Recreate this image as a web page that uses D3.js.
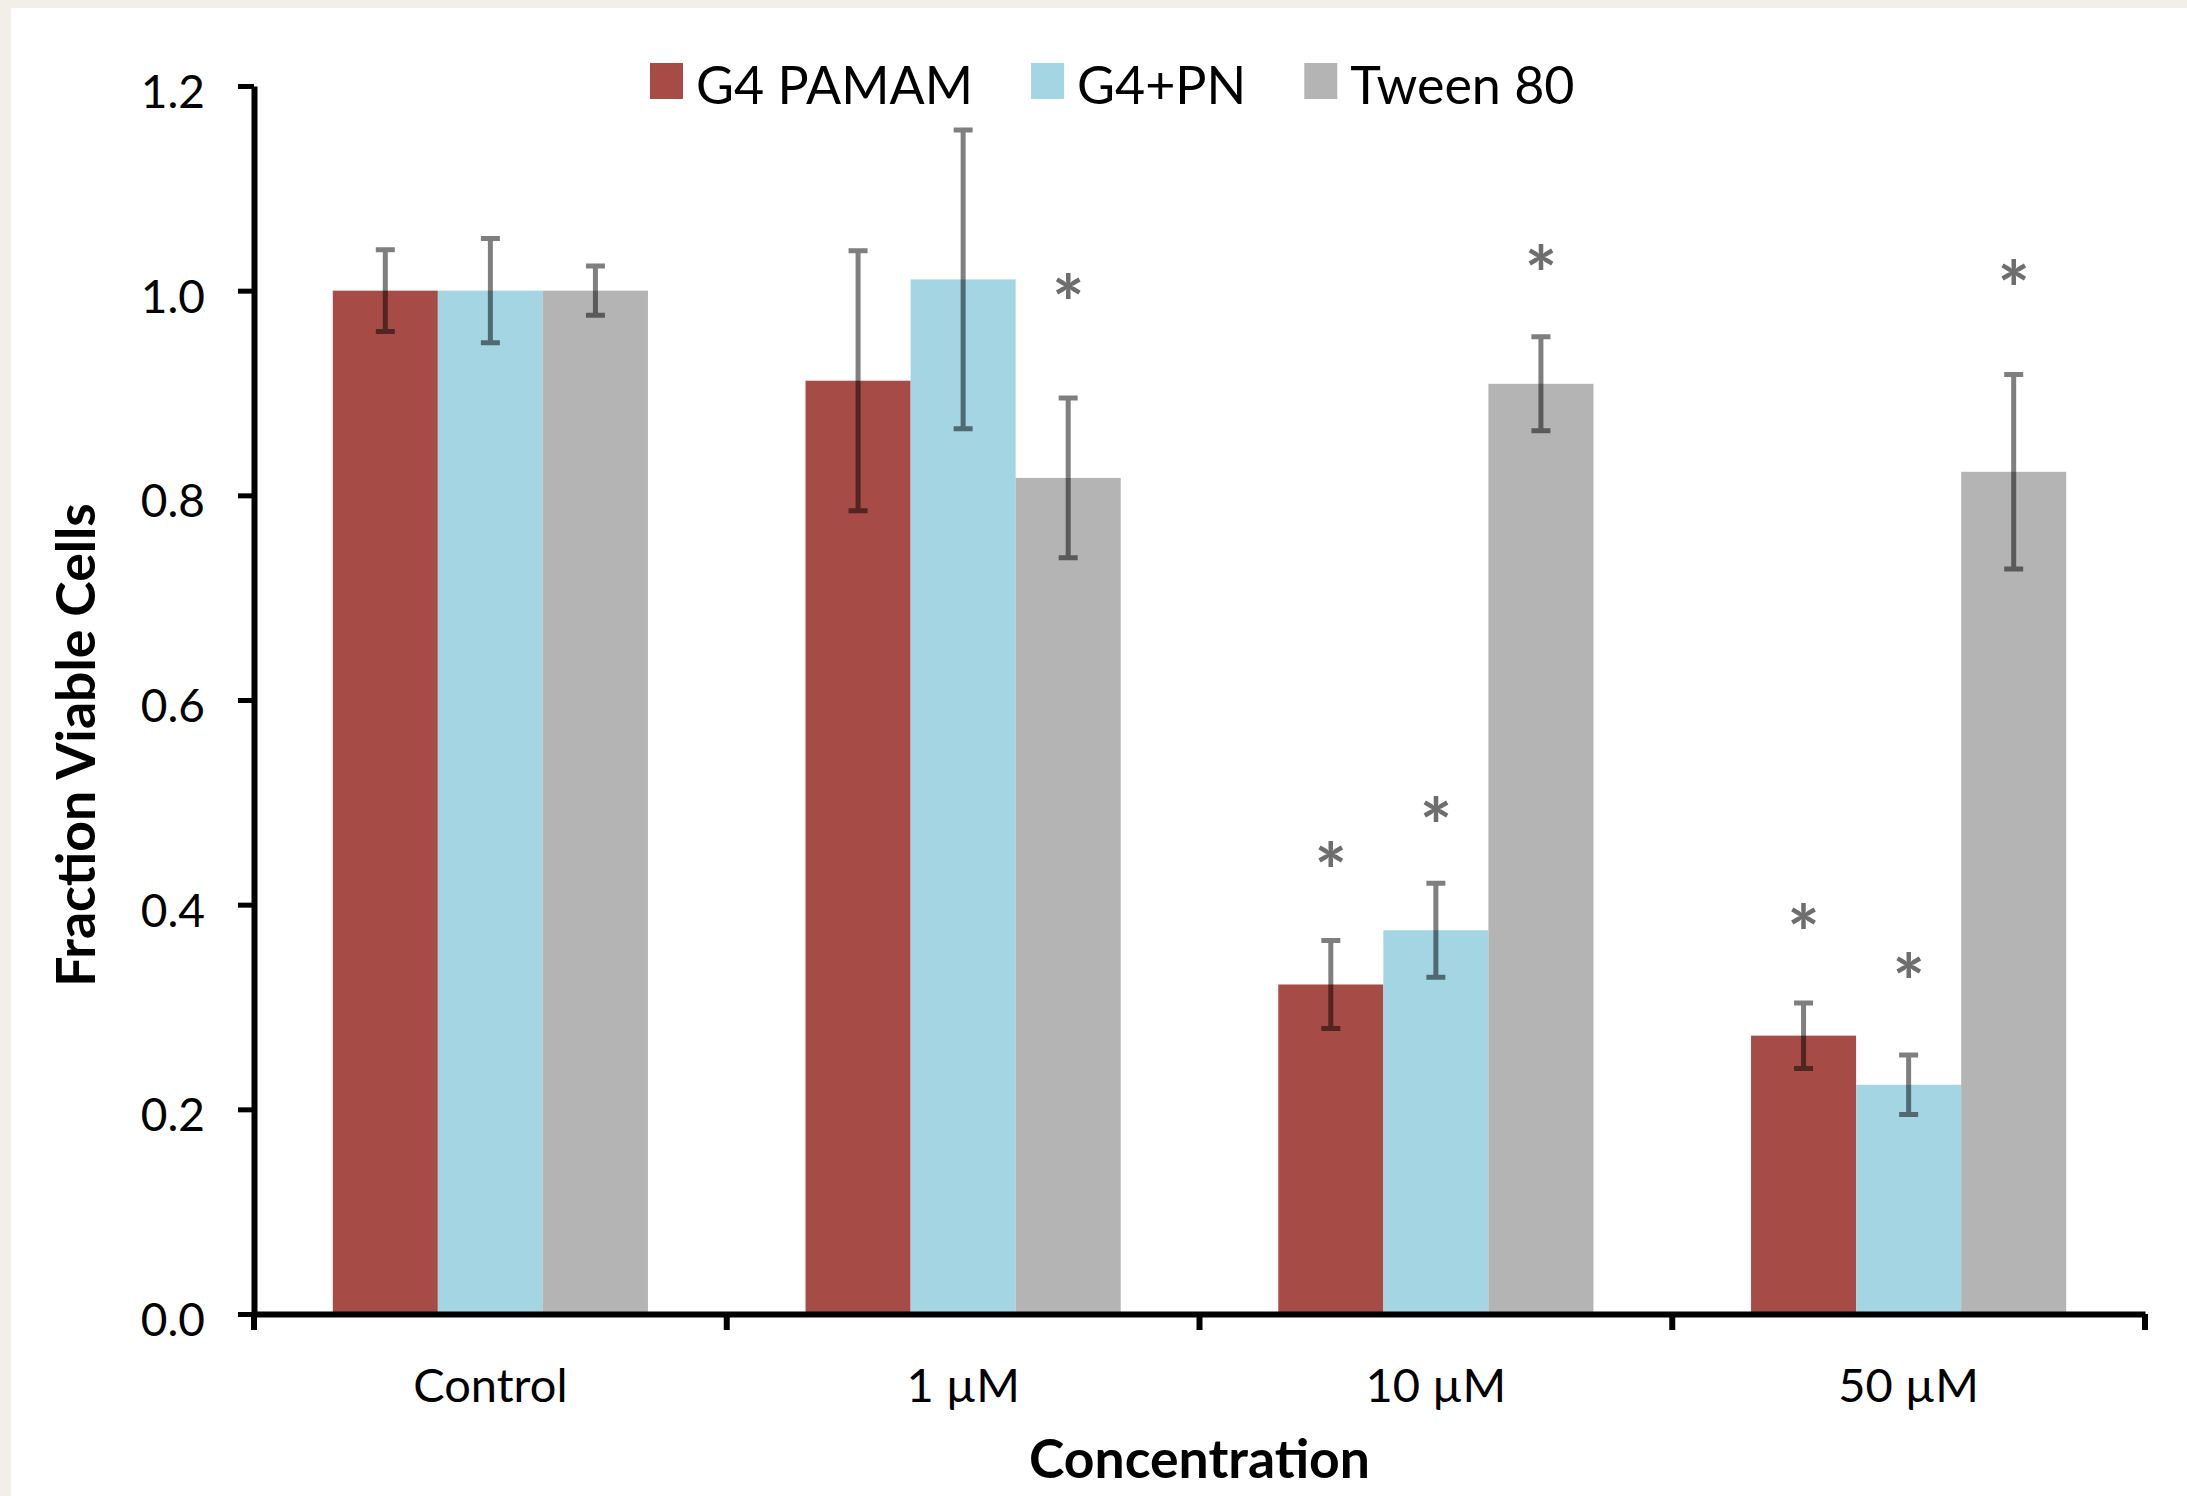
<!DOCTYPE html>
<html>
<head>
<meta charset="utf-8">
<script src="https://cdn.jsdelivr.net/npm/d3@7"></script>
<style>
  html, body { margin: 0; padding: 0; background: #f2efe8; }
  svg { display: block; }
  text { font-family: Lato, "Open Sans", sans-serif; }
</style>
</head>
<body>
<svg id="chart" width="2187" height="1496"></svg>
<script>
// ---- data ----
const categories = ["Control", "1 µM", "10 µM", "50 µM"];
const seriesNames = ["G4 PAMAM", "G4+PN", "Tween 80"];
const pamamValues = [1.000, 0.912, 0.322, 0.272];
const pamamErrors = [0.040, 0.127, 0.043, 0.032];
const pnValues    = [1.000, 1.011, 0.375, 0.224];
const pnErrors    = [0.051, 0.146, 0.046, 0.029];
const tweenValues = [1.000, 0.817, 0.909, 0.823];
const tweenErrors = [0.024, 0.078, 0.046, 0.095];
// level (in y units) at which a significance asterisk is shown (null = none)
const pamamStars  = [null, null, 0.450, 0.389];
const pnStars     = [null, null, 0.494, 0.341];
const tweenStars  = [null, 1.005, 1.033, 1.018];
const yTicks = [0.0, 0.2, 0.4, 0.6, 0.8, 1.0, 1.2];
const seriesColors = ["#a64b45", "#a3d5e3", "#b4b4b4"];

const seriesData = [
  {name: seriesNames[0], values: pamamValues, errors: pamamErrors, stars: pamamStars, color: seriesColors[0]},
  {name: seriesNames[1], values: pnValues,    errors: pnErrors,    stars: pnStars,    color: seriesColors[1]},
  {name: seriesNames[2], values: tweenValues, errors: tweenErrors, stars: tweenStars, color: seriesColors[2]}
];

// ---- layout ----
const svg = d3.select("#chart");
svg.append("rect").attr("x", 11).attr("y", 8).attr("width", 2187 - 11).attr("height", 1496 - 8).attr("fill", "#ffffff");

const plotLeft = 254, plotRight = 2145, plotTop = 86, plotBottom = 1314;

const x0 = d3.scaleBand().domain(categories).range([plotLeft, plotRight]).paddingInner(0).paddingOuter(0);
const bw = x0.bandwidth();
const x1 = d3.scaleBand().domain(seriesNames).range([bw / 6, bw * 5 / 6]).padding(0);
const y = d3.scaleLinear().domain([0, 1.2]).range([plotBottom, plotTop]);

// bars
const flat = [];
seriesData.forEach(s => categories.forEach((c, i) => flat.push({s, c, i, v: s.values[i], e: s.errors[i], star: s.stars[i]})));

const barsG = svg.append("g");
barsG.selectAll("rect").data(flat).join("rect")
  .attr("x", d => x0(d.c) + x1(d.s.name))
  .attr("y", d => y(d.v))
  .attr("width", x1.bandwidth())
  .attr("height", d => y(0) - y(d.v))
  .attr("fill", d => d.s.color);

// error bars
const capHalf = 9.5;
svg.append("g").selectAll("path").data(flat).join("path")
  .attr("d", d => {
    const cx = x0(d.c) + x1(d.s.name) + x1.bandwidth() / 2;
    const yt = y(d.v + d.e), yb = y(d.v - d.e);
    return `M${cx - capHalf},${yt}H${cx + capHalf}M${cx},${yt}V${yb}M${cx - capHalf},${yb}H${cx + capHalf}`;
  })
  .attr("fill", "none")
  .attr("stroke", "#000")
  .attr("stroke-opacity", 0.5)
  .attr("stroke-width", 5);

// asterisks: size/position from measured glyph ink
const ctx = document.createElement("canvas").getContext("2d");
const refSize = 100;
ctx.font = `bold ${refSize}px Lato`;
const m = ctx.measureText("*");
const inkH = m.actualBoundingBoxAscent + m.actualBoundingBoxDescent;
const starSize = refSize * 26 / inkH;
const k = starSize / refSize;
const baseOff = (m.actualBoundingBoxAscent - m.actualBoundingBoxDescent) / 2 * k;
svg.append("g").selectAll("text").data(flat.filter(d => d.star !== null)).join("text")
  .attr("x", d => x0(d.c) + x1(d.s.name) + x1.bandwidth() / 2)
  .attr("y", d => y(d.star) + baseOff)
  .attr("text-anchor", "middle")
  .attr("font-size", starSize)
  .attr("font-weight", "bold")
  .attr("fill", "#6e6e6e")
  .text("*");

// y axis
const yAxis = svg.append("g").attr("transform", `translate(${plotLeft},0)`)
  .call(d3.axisLeft(y).tickValues(yTicks).tickFormat(d3.format(".1f")).tickSize(16).tickSizeOuter(0).tickPadding(33));
yAxis.select(".domain").attr("stroke", "#000").attr("stroke-width", 6);
yAxis.selectAll(".tick line").attr("stroke", "#000").attr("stroke-width", 5);
yAxis.selectAll(".tick text").attr("font-size", 46).attr("fill", "#000").attr("dy", "0.47em")
  .attr("font-family", "Lato");

// x axis
const xAxis = svg.append("g").attr("transform", `translate(0,${plotBottom})`)
  .call(d3.axisBottom(x0).tickSize(0).tickSizeOuter(0));
xAxis.select(".domain").attr("stroke", "#000").attr("stroke-width", 6);
xAxis.selectAll(".tick text").attr("font-size", 47).attr("fill", "#000").attr("y", 88).attr("dy", 0)
  .attr("font-family", "Lato");
// category separators
const bounds = categories.map(c => x0(c)).concat([x0.range()[1]]);
xAxis.append("g").selectAll("line").data(bounds).join("line")
  .attr("x1", d => d).attr("x2", d => d)
  .attr("y1", 0).attr("y2", 16)
  .attr("stroke", "#000").attr("stroke-width", 6);

// axis titles
svg.append("text")
  .attr("x", (plotLeft + plotRight) / 2).attr("y", 1478)
  .attr("text-anchor", "middle").attr("font-size", 53.5).attr("font-weight", "bold").attr("fill", "#000")
  .text("Concentration");
svg.append("text")
  .attr("transform", "translate(95,745) rotate(-90)")
  .attr("text-anchor", "middle").attr("font-size", 53.5).attr("font-weight", "bold").attr("fill", "#000")
  .text("Fraction Viable Cells");

// legend
const legend = svg.append("g");
let lx = 650;
seriesData.forEach(s => {
  legend.append("rect").attr("x", lx).attr("y", 63).attr("width", 33).attr("height", 36).attr("fill", s.color);
  const t = legend.append("text").attr("x", lx + 46).attr("y", 104).attr("font-size", 52).attr("fill", "#000").text(s.name);
  lx = lx + 46 + t.node().getComputedTextLength() + 58;
});
</script>
</body>
</html>
